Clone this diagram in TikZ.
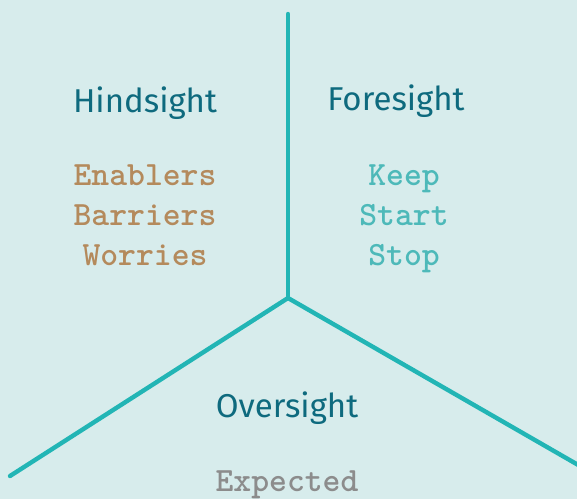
\documentclass[tikz,border=0pt]{standalone}
\usepackage{fontspec}
\newfontfamily\sightfont{Fira Sans}
\usepackage{xcolor}
\usepackage{tikz}
\definecolor{bgcol}{HTML}{D7ECEC}
\definecolor{linecol}{HTML}{22B5B5}
\definecolor{sightcol}{HTML}{0E6A7E}
\definecolor{hindcol}{HTML}{B48A5C}
\definecolor{forecol}{HTML}{4DB9B9}
\definecolor{overcol}{HTML}{8C8C8C}
\tikzstyle{sight}=[anchor=base,inner sep=0pt,text=sightcol,font=\sightfont\fontsize{16.5}{20}\selectfont]
\tikzstyle{item} =[anchor=base,inner sep=0pt,font=\ttfamily\bfseries\fontsize{17}{20}\selectfont]
\tikzstyle{split}=[line width=2.2pt,line cap=round,linecol]

\begin{document}
\begin{tikzpicture}[x=.5pt,y=-.5pt]
	\fill[bgcol] (0,0) rectangle (577,499);
	\useasboundingbox (0,0) rectangle (577,499);
	\clip (0,0) rectangle (577,499);
	\coordinate (O) at (288,298);
	\coordinate (T) at (288,14);
	\coordinate (L) at (10,476);
	\coordinate (R) at (580,466);
	\draw[split] (O) -- (T);
	\draw[split] (O) -- (L);
	\draw[split] (O) -- (R);
	\node[sight] (hind) at (145,112) {Hindsight};
	\node[sight] (fore) at (396,110) {Foresight};
	\node[sight] (over) at (287,417) {Oversight};
	\node[item,text=hindcol] (enab) at (145,185) {Enablers};
	\node[item,text=hindcol] (barr) at (145,225) {Barriers};
	\node[item,text=hindcol] (worr) at (145,265) {Worries};
	\node[item,text=forecol] (keep) at (404,185) {Keep};
	\node[item,text=forecol] (start) at (404,225) {Start};
	\node[item,text=forecol] (stop) at (404,265) {Stop};
	\node[item,text=overcol] (expe) at (287,491) {Expected};
\end{tikzpicture}
\end{document}
